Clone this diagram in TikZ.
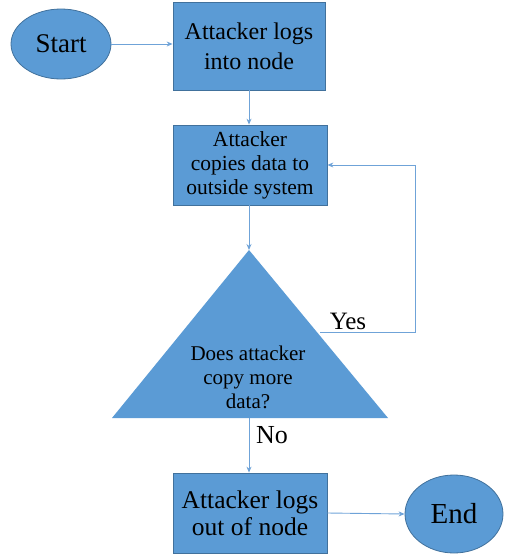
\documentclass[tikz,border=0pt]{standalone}
\usepackage{fontspec}
\setmainfont{Liberation Serif}
\usetikzlibrary{shapes.geometric,arrows.meta}
\definecolor{fillb}{HTML}{5B9BD5}
\definecolor{edgeb}{HTML}{41719C}
\definecolor{lineb}{HTML}{6FA3D8}
\begin{document}
\begin{tikzpicture}[x=1pt,y=-1pt,
  procbox/.style={draw=edgeb, line width=0.8pt, fill=fillb, minimum width=154pt, minimum height=80pt, inner sep=0pt, text=black, align=center},
  term/.style={ellipse, draw=edgeb, line width=0.8pt, fill=fillb, inner sep=0pt, text=black},
  conn/.style={draw=lineb, line width=0.9pt, -{Stealth[length=6pt,width=5pt]}},
  lbl/.style={inner sep=0pt, text=black, align=center}]
\useasboundingbox (0,0) rectangle (505,554);
% nodes
\node[term, minimum width=100pt, minimum height=70pt, font=\fontsize{27}{29}\selectfont] (start) at (61,44) {Start};
\node[procbox, minimum width=152pt, minimum height=88pt, font=\fontsize{24}{30}\selectfont] (b1) at (249,46) {Attacker logs\\into node};
\node[procbox, font=\fontsize{21.5}{24}\selectfont] (b2) at (250,165) {Attacker\\copies data to\\outside system};
\coordinate (apex) at (249,250);
\coordinate (bl) at (112,418);
\coordinate (br) at (388,418);
\coordinate (base) at (249,418);
\fill[fillb] (apex) -- (br) -- (bl) -- cycle;
\node[lbl, font=\fontsize{21}{24}\selectfont] (q) at (248,377) {Does attacker\\copy more\\data?};
\node[procbox, font=\fontsize{25.5}{27}\selectfont] (b3) at (250,513) {Attacker logs\\out of node};
\node[term, minimum width=98pt, minimum height=78pt, font=\fontsize{29}{31}\selectfont] (end) at (454,514) {End};
\node[lbl, font=\fontsize{25}{27}\selectfont] (yeslbl) at (348,321) {Yes};
\node[lbl, font=\fontsize{26}{28}\selectfont] (nolbl) at (272,435) {No};
\coordinate (yes) at (320,332);
\coordinate (loop) at (415,332);
% connectors
\draw[conn] (start.east) -- (start.east -| b1.west);
\draw[conn] (b1.south -| apex) -- (b2.north -| apex);
\draw[conn] (b2.south -| apex) -- (apex);
\draw[conn] (yes) -- (loop) |- (b2.east);
\draw[conn] (base) -- (b3.north -| base);
\draw[conn] (b3.east) -- (end.west);
\end{tikzpicture}
\end{document}
